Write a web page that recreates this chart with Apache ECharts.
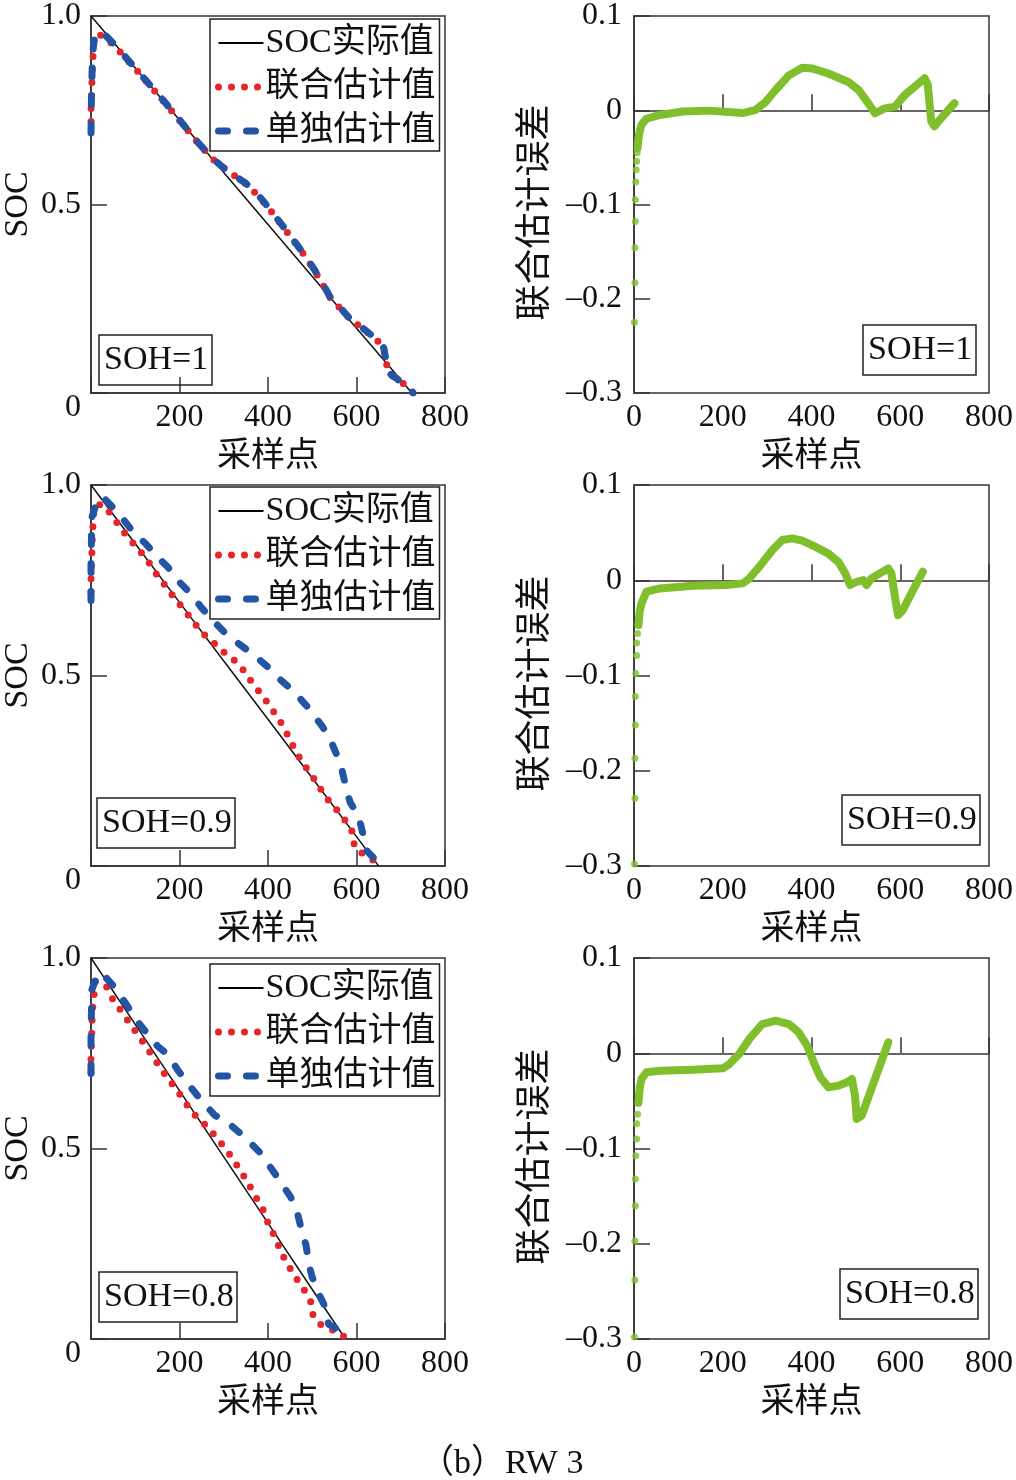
<!DOCTYPE html>
<html>
<head>
<meta charset="utf-8">
<script src="https://cdn.jsdelivr.net/npm/echarts@6/dist/echarts.min.js"></script>
<style>
  html, body { margin: 0; padding: 0; background: #fff; }
  #chart { width: 1016px; height: 1480px; }
</style>
</head>
<body>
<div id="chart"></div>
<script>
// ---------------- data ----------------
const xTicks = [0, 200, 400, 600, 800];
const socTicks = [0, 0.5, 1.0];
const errTicks = [-0.3, -0.2, -0.1, 0, 0.1];
const seriesNames = ['SOC实际值', '联合估计值', '单独估计值'];
const sohLabels = ['SOH=1', 'SOH=0.9', 'SOH=0.8'];
const xName = '采样点';
const socName = 'SOC';
const errName = '联合估计误差';
const caption = '（b）RW 3';

// SOH = 1
const actual1 = [[0,1.0],[100,0.862],[200,0.724],[300,0.585],[400,0.447],[500,0.309],[600,0.172],[700,0.035],[725,0.0]];
const joint1 = [[0,0.72],[0,0.75],[2,0.82],[4,0.88],[7,0.935],[12,0.948],[20,0.950],[30,0.945],[58,0.915],[110,0.847],[170,0.766],[245,0.659],[274,0.622],[297,0.599],[319,0.581],[349,0.556],[379,0.522],[401,0.491],[438,0.435],[483,0.364],[506,0.323],[528,0.279],[543,0.248],[565,0.223],[588,0.193],[610,0.175],[655,0.131],[662,0.114],[670,0.064],[677,0.049],[692,0.037],[722,0.011],[728,0.0]];
const single1 = [[0,0.69],[1,0.78],[3,0.88],[6,0.93],[12,0.955],[20,0.958],[30,0.952],[58,0.918],[110,0.848],[170,0.767],[245,0.660],[274,0.623],[297,0.600],[319,0.581],[349,0.557],[379,0.524],[401,0.492],[438,0.436],[483,0.366],[506,0.325],[528,0.281],[543,0.249],[565,0.224],[588,0.193],[610,0.176],[655,0.133],[662,0.118],[670,0.066],[677,0.050],[692,0.037],[722,0.008],[728,0.0]];
const errDots1 = [[1,-0.225],[2,-0.183],[2,-0.146],[3,-0.118],[3,-0.095],[4,-0.076],[5,-0.063],[6,-0.054],[7,-0.045]];
const errLine1 = [[8,-0.040],[10,-0.030],[13,-0.022],[17,-0.0155],[28,-0.009],[58,-0.005],[110,-0.0014],[170,-0.0004],[245,-0.003],[274,0.0004],[297,0.009],[319,0.0215],[349,0.037],[379,0.045],[401,0.0444],[438,0.039],[483,0.030],[506,0.0215],[528,0.0074],[543,-0.0032],[565,0.002],[588,0.0039],[610,0.016],[655,0.034],[662,0.027],[670,-0.012],[677,-0.017],[692,-0.0085],[722,0.0074]];

// SOH = 0.9
const actual2 = [[0,1.0],[100,0.846],[200,0.692],[300,0.538],[400,0.385],[500,0.231],[600,0.077],[650,0.0]];
const joint2 = [[0,0.72],[0,0.75],[3,0.862],[7,0.943],[24,0.95],[46,0.923],[67,0.887],[90,0.854],[110,0.828],[133,0.793],[151,0.760],[172,0.730],[190,0.701],[209,0.675],[229,0.645],[249,0.614],[273,0.591],[294,0.566],[316,0.549],[339,0.523],[360,0.488],[382,0.455],[400,0.427],[418,0.396],[435,0.366],[448,0.335],[463,0.300],[481,0.266],[498,0.240],[515,0.209],[532,0.179],[552,0.152],[571,0.126],[590,0.091],[596,0.048],[610,0.036],[624,0.026],[646,0.009],[650,0.0]];
const single2 = [[0,0.697],[0,0.80],[2,0.915],[16,0.967],[31,0.963],[61,0.928],[99,0.871],[121,0.849],[151,0.810],[174,0.784],[200,0.745],[226,0.714],[249,0.679],[279,0.640],[309,0.605],[339,0.579],[369,0.553],[399,0.523],[429,0.488],[459,0.457],[489,0.418],[523,0.366],[541,0.331],[560,0.279],[567,0.253],[579,0.192],[586,0.166],[605,0.131],[612,0.096],[624,0.039],[642,0.017],[650,0.005]];
const errDots2 = [[1,-0.298],[2,-0.229],[2,-0.187],[3,-0.152],[3,-0.122],[4,-0.098],[6,-0.079],[6,-0.066],[8,-0.056]];
const errLine2 = [[10,-0.047],[13,-0.032],[17,-0.0243],[28,-0.012],[58,-0.0086],[133,-0.0058],[207,-0.0051],[245,-0.0033],[260,0.0019],[282,0.014],[312,0.0317],[334,0.0422],[356,0.044],[379,0.0415],[409,0.035],[438,0.028],[461,0.019],[476,0.0072],[487,-0.005],[502,-0.0016],[517,0.0002],[524,-0.005],[535,0.0019],[554,0.0072],[573,0.0124],[580,0.0072],[588,-0.0173],[595,-0.0366],[606,-0.0313],[625,-0.0138],[651,0.009]];

// SOH = 0.8
const actual3 = [[0,1.0],[100,0.826],[200,0.652],[300,0.478],[400,0.304],[500,0.130],[575,0.0]];
const joint3 = [[0,0.70],[0,0.741],[3,0.860],[10,0.939],[35,0.925],[50,0.890],[69,0.860],[86,0.831],[105,0.800],[124,0.769],[142,0.737],[160,0.706],[180,0.675],[199,0.645],[217,0.614],[237,0.585],[259,0.561],[279,0.535],[301,0.504],[320,0.474],[337,0.443],[354,0.412],[370,0.377],[388,0.342],[402,0.298],[418,0.263],[429,0.228],[444,0.197],[459,0.167],[478,0.136],[496,0.101],[502,0.061],[519,0.038],[541,0.026],[567,0.013],[572,0.005]];
const single3 = [[0,0.697],[0,0.80],[2,0.917],[16,0.961],[31,0.952],[58,0.917],[73,0.890],[103,0.838],[114,0.820],[151,0.768],[174,0.746],[196,0.706],[230,0.654],[249,0.627],[279,0.588],[316,0.561],[346,0.531],[384,0.487],[399,0.461],[421,0.425],[451,0.373],[466,0.333],[478,0.276],[486,0.246],[493,0.193],[500,0.162],[515,0.118],[526,0.092],[537,0.039],[556,0.026],[571,0.015]];
const errDots3 = [[1,-0.298],[2,-0.238],[2,-0.197],[3,-0.160],[3,-0.132],[4,-0.1075],[6,-0.090],[6,-0.074],[8,-0.064]];
const errLine3 = [[10,-0.052],[13,-0.036],[17,-0.027],[28,-0.020],[58,-0.0183],[133,-0.0172],[200,-0.0158],[215,-0.0113],[237,-0.0008],[260,0.015],[289,0.0307],[319,0.0342],[349,0.0307],[371,0.022],[390,0.008],[405,-0.0095],[420,-0.0253],[438,-0.0358],[461,-0.034],[480,-0.0305],[491,-0.027],[498,-0.0445],[502,-0.069],[513,-0.0655],[535,-0.0375],[554,-0.013],[573,0.0115]];

// ---------------- layout / style ----------------
const SERIF = '"Liberation Serif", "Times New Roman", "Noto Sans CJK SC", serif';
const CJK = '"Noto Sans CJK SC", "Liberation Serif", sans-serif';
const MIXED = '"Liberation Serif", "Noto Sans CJK SC", serif';
const AX = '#333';
const TXT = '#111';
const RED = '#e5252a';
const BLUE = '#2455a5';
const GREEN = '#80bf2c';

const styleActual = { color: TXT, width: 1.5, type: 'solid' };
const styleJoint = { color: RED, width: 7, type: [0, 13], cap: 'round', join: 'round' };
const styleSingle = { color: BLUE, width: 7, type: [9, 19], cap: 'round', join: 'round' };
const legendLineStyles = [{ color: '#000', width: 2, type: 'solid' }, styleJoint, styleSingle];

const rowTop = [14, 485, 958];
const rowH = [379, 381, 381];
const leftX = 89, leftW = 356;
const rightX = 634, rightW = 358;

const actualSets = [actual1, actual2, actual3];
const jointSets = [joint1, joint2, joint3];
const singleSets = [single1, single2, single3];
const dotSets = [errDots1, errDots2, errDots3];
const lineSets = [errLine1, errLine2, errLine3];

const grids = [], xAxes = [], yAxes = [], series = [], titles = [], legends = [];

function errFmt(v) {
  const r = Math.round(v * 10) / 10;
  if (r === 0) return '0';
  return r < 0 ? '\u2013' + Math.abs(r).toFixed(1) : r.toFixed(1);
}

const legendBoxTop = [19, 487, 964];
const sohBoxL = [[99, 335], [97, 798], [99, 1272]];
const sohBoxR = [[863, 325], [842, 795], [840, 1269]];

for (let r = 0; r < 3; r++) {
  // left panel
  grids.push({ left: leftX, top: rowTop[r], width: leftW, height: rowH[r], show: true, borderColor: AX, borderWidth: 1.5, containLabel: false });
  const gl = grids.length - 1;
  xAxes.push({
    gridIndex: gl, type: 'value', min: xTicks[0], max: xTicks[xTicks.length - 1], interval: xTicks[1] - xTicks[0],
    axisLine: { show: true, lineStyle: { color: AX, width: 1.5 } },
    axisTick: { show: true, inside: true, length: 16, lineStyle: { color: AX, width: 1.5 } },
    splitLine: { show: false },
    axisLabel: { margin: 9, fontSize: 32, fontFamily: SERIF, color: TXT, formatter: v => v === 0 ? '' : String(v) },
    name: xName, nameLocation: 'middle', nameGap: 43,
    nameTextStyle: { fontSize: 34, fontFamily: CJK, color: TXT }
  });
  yAxes.push({
    gridIndex: gl, type: 'value', min: socTicks[0], max: socTicks[socTicks.length - 1], interval: socTicks[1] - socTicks[0],
    axisLine: { show: true, lineStyle: { color: AX, width: 1.5 } },
    axisTick: { show: true, inside: true, length: 16, lineStyle: { color: AX, width: 1.5 } },
    splitLine: { show: false },
    axisLabel: {
      margin: 10, fontSize: 32, fontFamily: SERIF, color: TXT,
      formatter: v => v === 0 ? '{z|0}' : v.toFixed(1),
      rich: { z: { padding: [30, 0, 0, 0], fontSize: 32, fontFamily: SERIF, color: TXT } }
    },
    name: socName, nameLocation: 'middle', nameGap: 56,
    nameTextStyle: { fontSize: 34, fontFamily: SERIF, color: TXT }
  });
  series.push({
    name: seriesNames[0], type: 'line', xAxisIndex: gl, yAxisIndex: gl, data: actualSets[r],
    symbol: 'none', lineStyle: styleActual, itemStyle: { color: TXT }, z: 2, silent: true, animation: false
  });
  series.push({
    name: seriesNames[1], type: 'line', xAxisIndex: gl, yAxisIndex: gl, data: jointSets[r],
    symbol: 'none', lineStyle: styleJoint, itemStyle: { color: RED }, z: 3, silent: true, animation: false
  });
  series.push({
    name: seriesNames[2], type: 'line', xAxisIndex: gl, yAxisIndex: gl, data: singleSets[r],
    symbol: 'none', lineStyle: styleSingle, itemStyle: { color: BLUE }, z: 4, silent: true, animation: false
  });
  legends.push({
    data: seriesNames.map((n, i) => ({ name: n, lineStyle: legendLineStyles[i], itemStyle: { opacity: 0 } })),
    orient: 'vertical', left: 210, top: legendBoxTop[r],
    itemWidth: 45, itemHeight: 14, itemGap: 8,
    padding: [6, 4, 2, 5],
    borderColor: '#222', borderWidth: 1.5, backgroundColor: '#fff',
    selectedMode: false,
    itemStyle: { opacity: 0 },
    textStyle: { fontSize: 34, fontFamily: MIXED, color: TXT, lineHeight: 36, padding: [0, 0, 0, -3] }
  });
  titles.push({
    text: sohLabels[r], left: sohBoxL[r][0], top: sohBoxL[r][1],
    padding: [5, 4, 5, 5], borderColor: '#222', borderWidth: 1.5,
    textStyle: { fontSize: 34, fontFamily: SERIF, color: TXT, fontWeight: 'normal', lineHeight: 40 }
  });

  // right panel
  grids.push({ left: rightX, top: rowTop[r], width: rightW, height: rowH[r], show: true, borderColor: AX, borderWidth: 1.5, containLabel: false });
  const gr = grids.length - 1;
  xAxes.push({
    gridIndex: gr, type: 'value', min: xTicks[0], max: xTicks[xTicks.length - 1], interval: xTicks[1] - xTicks[0],
    axisLine: { show: true, lineStyle: { color: AX, width: 1.5 } },
    axisTick: { show: true, inside: true, length: 16, lineStyle: { color: AX, width: 1.5 } },
    splitLine: { show: false },
    axisLabel: { margin: 9, fontSize: 32, fontFamily: SERIF, color: TXT },
    name: xName, nameLocation: 'middle', nameGap: 43,
    nameTextStyle: { fontSize: 34, fontFamily: CJK, color: TXT }
  });
  yAxes.push({
    gridIndex: gr, type: 'value', min: errTicks[0], max: errTicks[errTicks.length - 1], interval: 0.1,
    axisLine: { show: true, lineStyle: { color: AX, width: 1.5 } },
    axisTick: { show: true, inside: true, length: 16, lineStyle: { color: AX, width: 1.5 } },
    splitLine: { show: false },
    axisLabel: { margin: 12, fontSize: 32, fontFamily: SERIF, color: TXT, formatter: errFmt },
    name: errName, nameLocation: 'middle', nameGap: 84,
    nameTextStyle: { fontSize: 36, fontFamily: CJK, color: TXT, padding: [0, 16, 0, 0] }
  });
  series.push({
    name: 'err-dots-' + r, type: 'scatter', xAxisIndex: gr, yAxisIndex: gr, data: dotSets[r],
    symbol: 'circle', symbolSize: 7, itemStyle: { color: GREEN }, silent: true, animation: false, z: 3
  });
  series.push({
    name: 'err-line-' + r, type: 'line', xAxisIndex: gr, yAxisIndex: gr, data: lineSets[r],
    symbol: 'none',
    lineStyle: { color: GREEN, width: 8, cap: 'round', join: 'round' }, silent: true, animation: false, z: 3
  });
  titles.push({
    text: sohLabels[r], left: sohBoxR[r][0], top: sohBoxR[r][1],
    padding: [5, 4, 5, 5], borderColor: '#222', borderWidth: 1.5,
    textStyle: { fontSize: 34, fontFamily: SERIF, color: TXT, fontWeight: 'normal', lineHeight: 40 }
  });
}

titles.push({
  text: caption, left: 420, top: 1446, padding: 0,
  textStyle: { fontSize: 34, fontFamily: MIXED, color: TXT, fontWeight: 'normal', lineHeight: 36 }
});

const chart = echarts.init(document.getElementById('chart'), null, { renderer: 'canvas' });
chart.setOption({
  backgroundColor: '#fff',
  animation: false,
  title: titles,
  legend: legends,
  grid: grids,
  xAxis: xAxes,
  yAxis: yAxes,
  series: series
});
</script>
</body>
</html>
